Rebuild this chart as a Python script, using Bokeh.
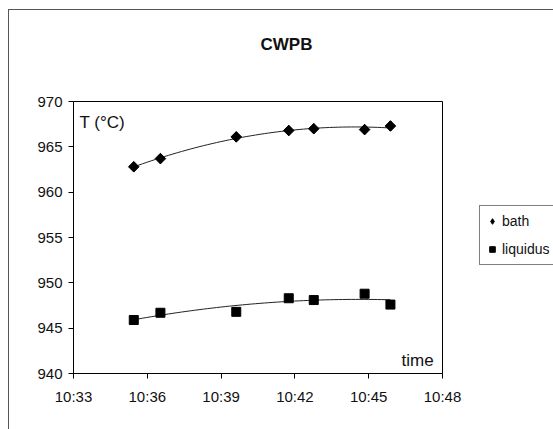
import numpy as np
import pandas as pd
from bokeh.plotting import figure
from bokeh.models import (Legend, LegendItem, Label, FixedTicker, DatetimeTickFormatter, Range1d)
from bokeh.embed import file_html
from bokeh.resources import INLINE

# ---- data ----
times = ["10:35:27", "10:36:32", "10:39:37", "10:41:45", "10:42:46", "10:44:50", "10:45:53"]
bath = [962.8, 963.7, 966.1, 966.8, 967.0, 966.9, 967.3]
liquidus = [945.9, 946.7, 946.8, 948.3, 948.1, 948.8, 947.6]
x_tick_labels = ["10:33", "10:36", "10:39", "10:42", "10:45", "10:48"]
y_ticks = [940, 945, 950, 955, 960, 965, 970]
title_text = "CWPB"
y_label = "T (°C)"
x_label = "time"

FONT = "Liberation Sans"
day = "2000-01-01 "
t = pd.to_datetime([day + s for s in times])
xt = pd.to_datetime([day + s for s in x_tick_labels])
xt_ms = [float(v.value // 10**6) for v in xt]
t_ms = np.array([v.value // 10**6 for v in t], dtype=float)

p = figure(width=544, height=419, output_backend="svg", toolbar_location=None,
           x_axis_type="datetime", title=title_text,
           x_range=Range1d(xt_ms[0], xt_ms[-1]), y_range=Range1d(940, 970),
           min_border_left=64, min_border_right=111, min_border_top=91, min_border_bottom=56,
           frame_width=369, frame_height=272)
p.styles = {"border-left": "1px solid #555", "border-top": "1px solid #555",
            "margin-left": "8px", "margin-top": "9px"}
p.background_fill_color = "white"
p.border_fill_color = "white"
p.outline_line_color = "black"
p.outline_line_width = 1
p.xgrid.visible = False
p.ygrid.visible = False

xa = p.xaxis[0]
ya = p.yaxis[0]

p.title.align = "left"
p.title.offset = 187
p.title.padding = dict(left=0, right=0, top=0, bottom=43)
p.title.text_font = FONT
p.title.text_font_size = "17px"
p.title.text_font_style = "bold"
p.title.text_color = "#111"

# trendlines (2nd-order polynomial fits of the data, like the spreadsheet trendline)
tmin = (t_ms - xt_ms[0]) / 60000.0
xs = np.linspace(tmin[0], tmin[-1], 60)
xs_ms = xt_ms[0] + xs * 60000.0
for ser in (bath, liquidus):
    c = np.polyfit(tmin, ser, 2)
    p.line(xs_ms, np.polyval(c, xs), line_color="#222", line_width=1)

# legend swatch for bath (hidden beneath the rotated squares; legends ignore rotation)
r_bath_key = p.scatter(t_ms, bath, marker="diamond", size=10,
                       fill_color="black", line_color="black")
r_bath = p.scatter(t_ms, bath, marker="square", angle=np.pi / 4, size=7.5,
                   fill_color="black", line_color="black")
r_liq = p.scatter(t_ms, liquidus, marker="square", size=9,
                  fill_color="black", line_color="black")

# axes
for ax in (xa, ya):
    ax.axis_line_color = "black"
    ax.major_tick_line_color = "black"
    ax.minor_tick_line_color = None
    ax.major_tick_in = 0
    ax.major_tick_out = 5
    ax.major_label_text_font = FONT
    ax.major_label_text_font_size = "15px"
    ax.major_label_text_color = "#111"
xa.ticker = FixedTicker(ticks=xt_ms)
xa.formatter = DatetimeTickFormatter(minutes="%H:%M", hours="%H:%M", minsec="%H:%M", hourmin="%H:%M",
                                     context=None)
xa.major_label_standoff = 9
ya.ticker = FixedTicker(ticks=y_ticks)
ya.major_label_standoff = 6

# texts inside the frame
p.add_layout(Label(x=6, y=251, x_units="screen", y_units="screen", text=y_label,
                   text_font=FONT, text_font_size="17px", text_color="#111",
                   text_baseline="alphabetic"))
p.add_layout(Label(x=328, y=13, x_units="screen", y_units="screen", text=x_label,
                   text_font=FONT, text_font_size="17px", text_color="#111",
                   text_baseline="alphabetic"))

legend = Legend(items=[LegendItem(label="bath", renderers=[r_bath_key]),
                       LegendItem(label="liquidus", renderers=[r_liq])],
                location=(37, 108), padding=5, spacing=8, margin=0,
                glyph_width=14, glyph_height=20, label_height=20, label_standoff=3,
                label_text_font=FONT, label_text_font_size="14px", label_text_color="#111",
                border_line_color="black", border_line_width=1,
                background_fill_color="white", background_fill_alpha=1)
p.add_layout(legend, "right")

open("out.html", "w").write(file_html(p, INLINE))
